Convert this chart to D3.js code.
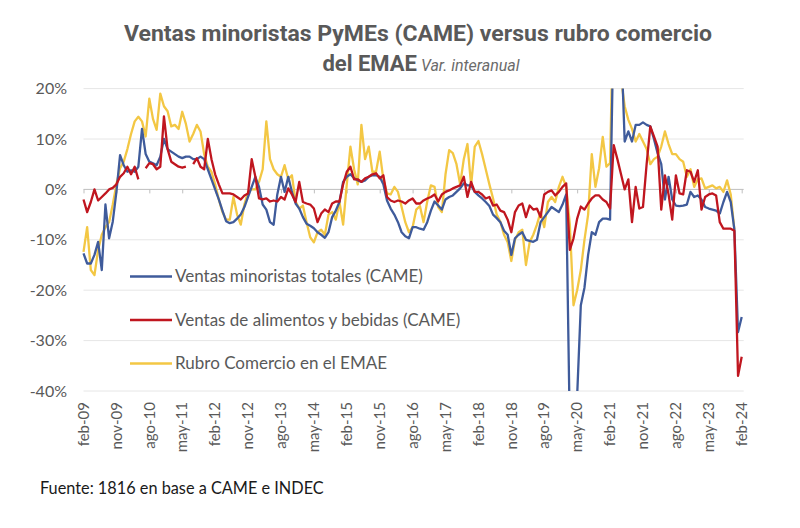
<!DOCTYPE html>
<html>
<head>
<meta charset="utf-8">
<script src="https://cdn.jsdelivr.net/npm/d3@7"></script>
<style>
  body { margin: 0; background: #fff; }
  svg { display: block; font-family: Lato, "Open Sans", sans-serif; }
</style>
</head>
<body>
<div id="chart"></div>
<script>
// monthly series, feb-09 .. feb-24 (var. interanual, %)
const tickLabels = ["feb-09", "nov-09", "ago-10", "may-11", "feb-12", "nov-12", "ago-13",
  "may-14", "feb-15", "nov-15", "ago-16", "may-17", "feb-18", "nov-18", "ago-19",
  "may-20", "feb-21", "nov-21", "ago-22", "may-23", "feb-24"];

const yTicks = [20, 10, 0, -10, -20, -30, -40];

const totalCame = [
  -12.7, -14.7, -14.7, -13, -10.4, -16, -3, -9.7, -6.4, -0.5, 6.8, 4.8,
  3.5, 3.8, 3.5, 4.5, 12, 7, 5.5, 5.2, 4.8, 6.5, 10, 8,
  7.5, 7, 6.5, 6.2, 6.5, 6.5, 6, 6, 6.5, 6, 4, 2,
  0, -2, -4.2, -6.3, -6.7, -6.5, -5.8, -5, -3.5, -1.5, 0.5, 2.5,
  0.5, -3, -4, -6.5, -7, -1, 2.5, -0.5, 2.5, -0.5, -2.8, -3.8,
  -5.5, -6.8, -7.2, -7.7, -8.5, -9, -9.6, -8.5, -5.5, -4.2, -2.5, 1.5,
  2.5, 3, 2.2, 1.8, 1.5, 1.8, 2.5, 2.8, 2.8, 2.5, 1, -2.2,
  -3.8, -5, -6.5, -8.5, -9.3, -9.7, -7.5, -7.5, -7.8, -8, -6.5, -4.2,
  -2.4, -3.2, -4, -2, -1.5, -1.2, -0.5, 0.2, 1.2, 0.8, 0.8, -0.5,
  -1.2, -1.8, -2.5, -3.3, -5, -5.7, -6.5, -8.2, -9, -13, -9.7, -9,
  -8.5, -10, -10.2, -10.4, -10, -6.5, -5.5, -4.5, -3.5, -4, -4.5, -3,
  -1, -48, -57, -41, -23, -19.5, -13, -8.5, -9, -6.5, -5.8, -5.8,
  -6, 35, 85, 30, 9.5, 11.5, 9.5, 12.8, 12.8, 13.3, 12.8, 12.5,
  10, 7.2, 5, -2, 2.5, -2, -3.2, -3.3, -3.2, -3, -0.5, -1.5,
  -1.2, -2, -3.5, -3.8, -4, -4.2, -4.8, -2.5, -0.5, -2.5, -8, -28.3,
  -25.3
];

const alimentosCame = [
  -2, -4.5, -2.5, 0, -2.2, -1.5, -0.8, 0, 0.3, 1, 2.5, 3.2,
  4.5, 3, 4.5, 2, null, 4.2, 5.2, 5, 4, 4.5, 14.5, 8,
  5.5, 5, 4.5, 4.3, 4.5, null, 5, 6.2, 4.5, 4, 10, 6,
  3, 1, -0.8, -0.8, -0.8, -1, -1.5, -2, -1.2, -0.8, 6, 2.5,
  -1.8, -2, -1.8, -2.4, -2.2, -2.4, -1.5, -2, 0.2, -1, -2.5, 1.5,
  -2.5, -2.8, -3, -3.8, -6.5, -4.8, -4, -4.5, -2.8, -2.4, -2.4, 1,
  3.5, 4.5, 2, 2, 1.5, 2.2, 2.5, 3, 3.2, 2.2, 2.8, -1.5,
  -2.2, -2.5, -2.2, -2.4, -2.8, -2.2, -1.8, -2.8, -2.8, -2.2, -1.8, -1.5,
  -1, -2.4, -1, -0.5, -0.2, 0.2, 0.5, 0.8, 2.5, -1.5, 1.5, -0.5,
  -0.5, -1, -1.8, -1.5, -3.2, -3, -4.2, -4.5, -6, -8.5, -4.5, -3.2,
  -2.8, -5.5, -3.2, -4, -3.8, -5.5, -1, -0.5, -0.2, -1.2, -0.5, 0.5,
  1.2, -12, -9.7, -5.8, -3.4, -4, -2.8, -1.8, -1.2, -1.2, -2, -2.5,
  -3.8, 8.8, 6, 3, 0, 2, -6.5, 0.5, -3.8, -3.5, 5, 12.5,
  10.5, 8.5, -4, 2.8, -1, -6, 2.8, -0.8, -1, 3.8, 3.5, 1.5,
  3.8, -4, -1.5, -1, -0.8, -1.2, -6.5, -7.8, -7.8, -7.8, -8.2, -37,
  -33.2
];

const comercioEmae = [
  -12.4, -7.5, -16, -17, -12, -9, -7.5, -6.5, -3, 1, 4.2, 5.5,
  8, 11, 13.5, 14.4, 13.5, 10.5, 18, 14, 11.8, 19, 16.5, 15.5,
  12.5, 12.8, 12, 15.4, 13, 9.5, 11, 12.8, 11.5, 7, 4.5, 3.5,
  1, -2, -4.5, -6, -6, -1.5, -5, -7, -3, -0.5, 0, 0,
  1.5, 4, 13.5, 6, 4, 3, 2.5, 4.8, 2, 2.8, -2.4, -3.8,
  -3.2, -6.5, -9.5, -10.5, -8.5, -8, -9, -5, -4.5, -6, -2.5, -7,
  1, 8.5, 4, 1, 12.8, 6, 8.5, 3.5, 3.5, 7.5, 2, -0.8,
  -1, 0.5, -0.5, -3.5, -6.5, -8.5, -7.5, -4, -3.3, -6.5, -2.4, 0.8,
  0.5, -3.5, -4.5, 3, 7.8, 7.2, 5, 1, 6, 9, 0.8, 8.5,
  9.6, 7, 4, 1, -1.8, -5, -6.4, -9, -10.5, -14.2, -10, -8.5,
  -8, -15, -10.5, -9, -7, -4.5, -7.5, -2.5, -1.5, -2.5, 0.5, 2.5,
  0.5, -7, -23, -20, -16, -10, -5, 7, 0.5, 4.2, 10.4, 4.5,
  5.2, 40, 60, 22, 16.5, 13.8, 12, 9.5, 11, 9.5, 8, 5,
  6, 6.5, 8.5, 11.5, 9, 7, 7, 6, 5.5, 2.5, 4, 0.5,
  2, 2.2, 0.2, 0.5, 0.8, 0.2, 0.5, -0.5, 1.8, -1, -8, null,
  null
];

const seriesNames = [
  "Ventas minoristas totales (CAME)",
  "Ventas de alimentos y bebidas (CAME)",
  "Rubro Comercio en el EMAE"
];
const seriesColors = ["#3f5b9b", "#c0161f", "#f3c744"];

const width = 800, height = 528;
const plotLeft = 83.5, plotRight = 741.7, plotTop = 88.6, plotBottom = 391;
const tickStep = 9;

const svg = d3.select("#chart")
  .append("svg")
  .attr("width", width)
  .attr("height", height);

const x = d3.scaleLinear().domain([0, totalCame.length - 1]).range([plotLeft, plotRight]);
const y = d3.scaleLinear().domain([-40, 20]).range([plotBottom, plotTop]);

// Title
svg.append("text")
  .attr("x", 418)
  .attr("y", 41)
  .attr("text-anchor", "middle")
  .attr("textLength", 588)
  .attr("lengthAdjust", "spacingAndGlyphs")
  .style("font-family", "Roboto, sans-serif")
  .style("font-weight", 700)
  .style("font-size", "22px")
  .style("fill", "#595959")
  .text("Ventas minoristas PyMEs (CAME) versus rubro comercio");

const sub = svg.append("text")
  .attr("x", 421)
  .attr("y", 71)
  .attr("text-anchor", "middle")
  .style("font-family", "Roboto, sans-serif")
  .style("fill", "#595959");
sub.append("tspan")
  .style("font-weight", 700)
  .style("font-size", "22px")
  .text("del EMAE");
sub.append("tspan")
  .style("font-style", "italic")
  .style("font-size", "16px")
  .style("fill", "#6b6b6b")
  .text(" Var. interanual");

// Gridlines
svg.append("g")
  .selectAll("line")
  .data(yTicks.filter(d => d !== 0))
  .join("line")
  .attr("x1", plotLeft)
  .attr("x2", plotRight + 2)
  .attr("y1", d => y(d))
  .attr("y2", d => y(d))
  .attr("stroke", "#e6e6e6")
  .attr("stroke-width", 1);

// Y axis labels
svg.append("g")
  .selectAll("text")
  .data(yTicks)
  .join("text")
  .attr("x", 67)
  .attr("y", d => y(d))
  .attr("dy", "0.35em")
  .attr("text-anchor", "end")
  .style("font-size", "16px")
  .style("fill", "#595959")
  .text(d => d + "%");

// Zero axis with tick marks
const axis = d3.axisBottom(x)
  .tickValues(d3.range(0, totalCame.length, tickStep))
  .tickFormat("")
  .tickSize(4)
  .tickSizeOuter(0);

const axisG = svg.append("g")
  .attr("transform", `translate(0,${y(0)})`)
  .call(axis);
axisG.select(".domain").attr("stroke", "#bfbfbf").attr("d", `M${plotLeft},0H${plotRight + 2}`);
axisG.selectAll(".tick line").attr("stroke", "#bfbfbf");

// X labels at bottom, rotated
svg.append("g")
  .selectAll("text")
  .data(tickLabels)
  .join("text")
  .attr("transform", (d, i) => `translate(${x(i * tickStep)},${plotBottom + 11}) rotate(-90)`)
  .attr("dy", "0.35em")
  .attr("text-anchor", "end")
  .style("font-size", "15px")
  .style("fill", "#595959")
  .text(d => d);

// Lines
svg.append("clipPath")
  .attr("id", "plot-clip")
  .append("rect")
  .attr("x", plotLeft - 2)
  .attr("y", plotTop)
  .attr("width", plotRight - plotLeft + 6)
  .attr("height", plotBottom - plotTop);

const line = d3.line()
  .defined(d => d != null)
  .x((d, i) => x(i))
  .y(d => y(d));

const drawOrder = [
  { values: comercioEmae, color: seriesColors[2] },
  { values: totalCame, color: seriesColors[0] },
  { values: alimentosCame, color: seriesColors[1] }
];

svg.append("g")
  .attr("clip-path", "url(#plot-clip)")
  .selectAll("path")
  .data(drawOrder)
  .join("path")
  .attr("fill", "none")
  .attr("stroke", d => d.color)
  .attr("stroke-width", 2.3)
  .attr("stroke-linejoin", "round")
  .attr("d", d => line(d.values));

// Legend
const legend = svg.append("g")
  .selectAll("g")
  .data(seriesNames)
  .join("g")
  .attr("transform", (d, i) => `translate(130,${276.5 + i * 43.5})`);

legend.append("line")
  .attr("x1", 0)
  .attr("x2", 42)
  .attr("stroke", (d, i) => seriesColors[i])
  .attr("stroke-width", 2.3);

legend.append("text")
  .attr("x", 45)
  .attr("dy", "0.35em")
  .style("font-size", "17px")
  .style("fill", "#595959")
  .text(d => d);

// Source
svg.append("text")
  .attr("x", 40)
  .attr("y", 494)
  .style("font-size", "16.3px")
  .style("fill", "#1a1a1a")
  .text("Fuente: 1816 en base a CAME e INDEC");
</script>
</body>
</html>
